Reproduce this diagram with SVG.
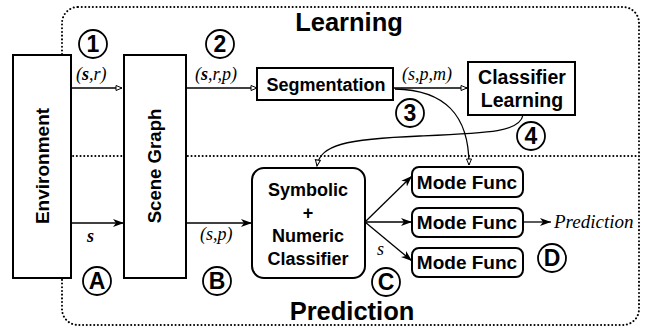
<svg xmlns="http://www.w3.org/2000/svg" width="646" height="331" viewBox="0 0 646 331">
<style>
.box{fill:#fff;stroke:#000;stroke-width:2}
.lbl{font-family:"Liberation Sans",Arial,sans-serif;font-weight:bold;fill:#000;text-anchor:middle}
.it{font-family:"Liberation Serif","Times New Roman",serif;font-style:italic;fill:#000}
.circ{fill:#fff;stroke:#000;stroke-width:1.8}
.num{font-family:"Liberation Sans",Arial,sans-serif;font-weight:bold;font-size:23px;text-anchor:middle;fill:#000}
.ln{fill:none;stroke:#000;stroke-width:1.3}
.dot{fill:none;stroke:#000;stroke-width:2;stroke-dasharray:0.1 3.6;stroke-linecap:round}
</style>
<defs>
<marker id="ho" markerWidth="8" markerHeight="8" refX="7" refY="4" orient="auto" markerUnits="userSpaceOnUse">
<path d="M1,1.5 L7,4 L1,6.5 Z" fill="#fff" stroke="#000" stroke-width="1"/>
</marker>
<marker id="fi" markerWidth="12" markerHeight="10" refX="11" refY="5" orient="auto" markerUnits="userSpaceOnUse">
<path d="M0,1 L11,5 L0,9 L3,5 Z" fill="#000"/>
</marker>
</defs>
<rect width="646" height="331" fill="#fff"/>
<g id="regions">
<rect x="62" y="7" width="577" height="318" rx="16" class="dot"/>
<line x1="62" y1="156" x2="639" y2="156" class="dot"/>
<text x="349" y="31" class="lbl" font-size="25.5">Learning</text>
<text x="352" y="320" class="lbl" font-size="25.5">Prediction</text>
</g>
<g id="connectors">
<line x1="71" y1="88" x2="122" y2="88" class="ln" marker-end="url(#ho)"/>
<line x1="186" y1="88" x2="257" y2="88" class="ln" marker-end="url(#ho)"/>
<line x1="393" y1="88" x2="467" y2="88" class="ln" marker-end="url(#ho)"/>
<path d="M395,89 C445,90 469,115 469,165" class="ln" marker-end="url(#ho)"/>
<path d="M523,115 C520,132 490,133 420,136 C345,139 320,145 317,166" class="ln" marker-end="url(#ho)"/>
<line x1="72" y1="223" x2="124" y2="223" class="ln" marker-end="url(#fi)"/>
<line x1="186" y1="223" x2="252" y2="223" class="ln" marker-end="url(#fi)"/>
<line x1="365" y1="222" x2="412" y2="176" class="ln" marker-end="url(#fi)"/>
<line x1="365" y1="222" x2="412" y2="222" class="ln" marker-end="url(#fi)"/>
<line x1="365" y1="222" x2="412" y2="261" class="ln" marker-end="url(#fi)"/>
<line x1="523" y1="222" x2="551" y2="222" class="ln" marker-end="url(#fi)"/>
<text x="76" y="80" class="it" font-size="18">(<tspan font-weight="bold">s</tspan>,r)</text>
<text x="195" y="80" class="it" font-size="18">(<tspan font-weight="bold">s</tspan>,r,p)</text>
<text x="402" y="80" class="it" font-size="18">(s,p,m)</text>
<text x="87" y="242" class="it" font-size="18" font-weight="bold">s</text>
<text x="200" y="240" class="it" font-size="18">(s,p)</text>
<text x="377" y="255" class="it" font-size="18">s</text>
<text x="554" y="228" class="it" font-size="19">Prediction</text>
</g>
<g id="environment">
<rect x="13" y="55" width="58" height="223" class="box"/>
<text transform="translate(49,166) rotate(-90)" class="lbl" font-size="19">Environment</text>
</g>
<g id="scene-graph">
<rect x="124" y="55" width="62" height="223" class="box"/>
<text transform="translate(161,166) rotate(-90)" class="lbl" font-size="18.6">Scene Graph</text>
</g>
<g id="segmentation">
<rect x="257" y="68" width="136" height="32" class="box"/>
<text x="326" y="91" class="lbl" font-size="18">Segmentation</text>
</g>
<g id="classifier-learning">
<rect x="468" y="62" width="107" height="53" class="box"/>
<text x="522" y="84" class="lbl" font-size="19.5">Classifier</text>
<text x="522" y="107" class="lbl" font-size="19.5">Learning</text>
</g>
<g id="symbolic-classifier">
<rect x="252" y="168" width="113" height="110" rx="12" class="box"/>
<text x="308" y="196" class="lbl" font-size="18">Symbolic</text>
<text x="308" y="219" class="lbl" font-size="18">+</text>
<text x="308" y="242" class="lbl" font-size="18">Numeric</text>
<text x="308" y="265" class="lbl" font-size="18">Classifier</text>
</g>
<g id="mode-func-1">
<rect x="412" y="167" width="111" height="30" rx="7" class="box"/>
<text x="467" y="189" class="lbl" font-size="19">Mode Func</text>
</g>
<g id="mode-func-2">
<rect x="412" y="208" width="111" height="29" rx="7" class="box"/>
<text x="467" y="229" class="lbl" font-size="19">Mode Func</text>
</g>
<g id="mode-func-3">
<rect x="412" y="248" width="111" height="29" rx="7" class="box"/>
<text x="467" y="269" class="lbl" font-size="19">Mode Func</text>
</g>
<g id="markers">
<circle cx="93" cy="44" r="14" class="circ"/><text x="93" y="52" class="num">1</text>
<circle cx="220" cy="44" r="14" class="circ"/><text x="220" y="52" class="num">2</text>
<circle cx="410" cy="113" r="14" class="circ"/><text x="410" y="121" class="num">3</text>
<circle cx="531" cy="136" r="14" class="circ"/><text x="531" y="144" class="num">4</text>
<circle cx="97" cy="281" r="14" class="circ"/><text x="97" y="289" class="num">A</text>
<circle cx="217" cy="281" r="14" class="circ"/><text x="217" y="289" class="num">B</text>
<circle cx="386" cy="282" r="14" class="circ"/><text x="386" y="290" class="num">C</text>
<circle cx="552" cy="258" r="14" class="circ"/><text x="552" y="266" class="num">D</text>
</g>
</svg>
